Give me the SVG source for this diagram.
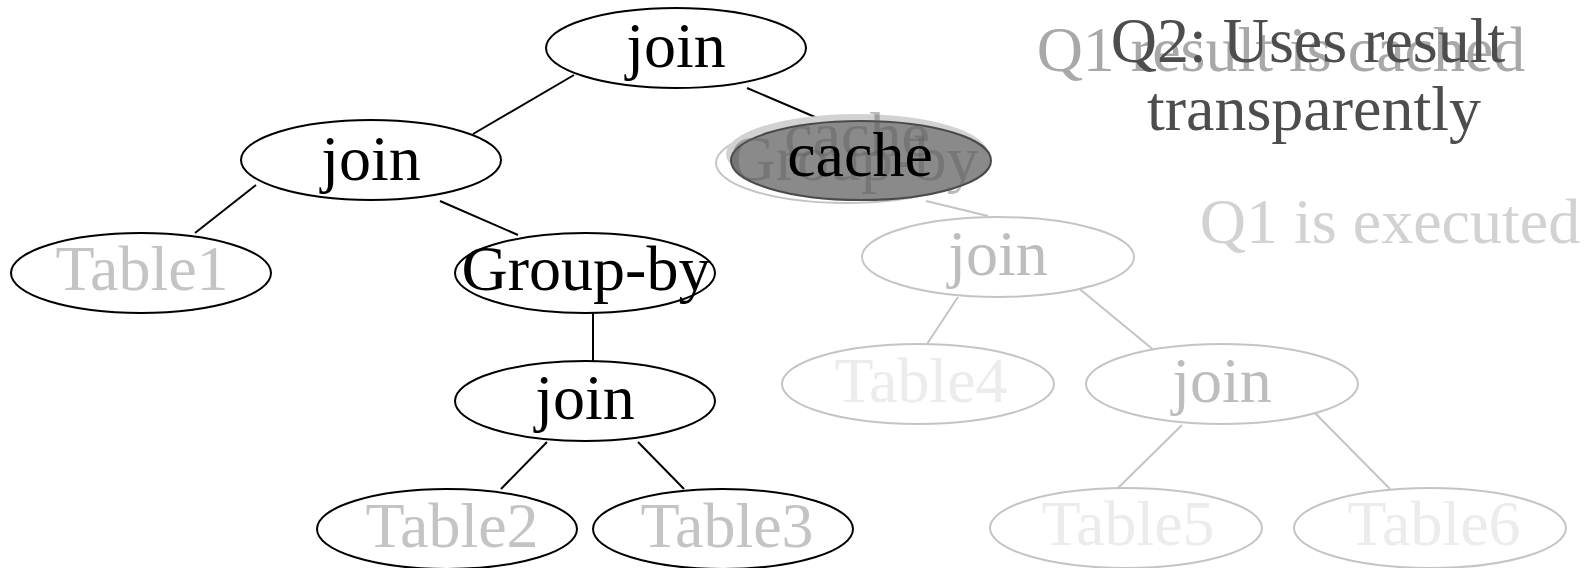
<svg xmlns="http://www.w3.org/2000/svg" width="1594" height="568" viewBox="0 0 1594 568">
<style>
text{font-family:"Liberation Serif","Times New Roman",serif;font-size:64px;text-anchor:middle}
.q2 ellipse{fill:#fff;stroke:#000;stroke-width:2}
.q1 ellipse{fill:#fff;stroke:#c4c4c4;stroke-width:2}
.lbl{fill:#000}
.tbl{fill:#c4c4c4}
.q1j{fill:#bdbdbd}
.q1t{fill:#ececec}
.e2{stroke:#000;stroke-width:2}
.e1{stroke:#c4c4c4;stroke-width:2}
</style>
<rect width="1594" height="568" fill="#fff"/>
<g id="connectors">
<line class="e2" x1="574" y1="75" x2="473" y2="134"/>
<line class="e2" x1="747" y1="88" x2="822" y2="120"/>
<line class="e2" x1="256" y1="185" x2="195" y2="233"/>
<line class="e2" x1="440" y1="201" x2="518" y2="235"/>
<line class="e2" x1="593" y1="313" x2="593" y2="361"/>
<line class="e2" x1="547" y1="442" x2="501" y2="489"/>
<line class="e2" x1="638" y1="442" x2="684" y2="489"/>
<line class="e1" x1="926" y1="201" x2="988" y2="216"/>
<line class="e1" x1="958" y1="297" x2="927" y2="344"/>
<line class="e1" x1="1070" y1="281" x2="1167" y2="361"/>
<line class="e1" x1="1182" y1="425" x2="1118" y2="488"/>
<line class="e1" x1="1311" y1="409" x2="1390" y2="489"/>
</g>
<g id="q1-text">
<text x="1281" y="71" fill="#a8a8a8" font-size="65">Q1 result is cached</text>
<text x="1390" y="243" fill="#d2d2d2">Q1 is executed</text>
</g>
<g id="q2-text">
<text x="1308" y="62" fill="#4d4d4d">Q2: Uses result</text>
<text x="1314" y="130" fill="#4d4d4d">transparently</text>
</g>
<g class="q2">
<g id="n-join-top"><ellipse cx="676" cy="48" rx="130" ry="40"/><text class="lbl" x="676" y="67">join</text></g>
<g id="n-join-2"><ellipse cx="371" cy="160" rx="130" ry="40"/><text class="lbl" x="371" y="180">join</text></g>
<g id="n-table1"><ellipse cx="141" cy="273" rx="130" ry="40"/><text class="tbl" x="142" y="290">Table1</text></g>
<g id="n-groupby"><ellipse cx="585" cy="273" rx="130" ry="40"/><text class="lbl" x="586" y="290">Group-by</text></g>
<g id="n-join-4"><ellipse cx="585" cy="401" rx="130" ry="40"/><text class="lbl" x="585" y="419">join</text></g>
<g id="n-table2"><ellipse cx="447" cy="529" rx="130" ry="40"/><text class="tbl" x="452" y="547">Table2</text></g>
<g id="n-table3"><ellipse cx="723" cy="529" rx="130" ry="40"/><text class="tbl" x="727" y="547">Table3</text></g>
</g>
<g class="q1">
<g id="n-q1-join"><ellipse cx="998" cy="257" rx="136" ry="40"/><text class="q1j" x="998" y="275">join</text></g>
<g id="n-table4"><ellipse cx="918" cy="384" rx="136" ry="40"/><text class="q1t" x="921" y="402">Table4</text></g>
<g id="n-q1-join2"><ellipse cx="1222" cy="384" rx="136" ry="40"/><text class="q1j" x="1222" y="402">join</text></g>
<g id="n-table5"><ellipse cx="1126" cy="528" rx="136" ry="40"/><text class="q1t" x="1128" y="545">Table5</text></g>
<g id="n-table6"><ellipse cx="1430" cy="528" rx="136" ry="40"/><text class="q1t" x="1434" y="545">Table6</text></g>
<g id="n-cache">
<ellipse cx="846" cy="163" rx="130" ry="40" style="fill:none;stroke:#c4c4c4;stroke-width:2"/>
<ellipse cx="857" cy="154" rx="131" ry="40" style="fill:#d2d2d2;stroke:none"/>
<ellipse cx="861" cy="160.5" rx="130" ry="39.5" style="fill:#8a8a8a;stroke:#4a4a4a;stroke-width:2"/>
<text x="854" y="180" fill="#5a5a5a" fill-opacity="0.42">Group-by</text>
<text x="857" y="156" fill="#5a5a5a" fill-opacity="0.42">cache</text>
<text x="860" y="176" fill="#000">cache</text>
</g>
</g>
</svg>
